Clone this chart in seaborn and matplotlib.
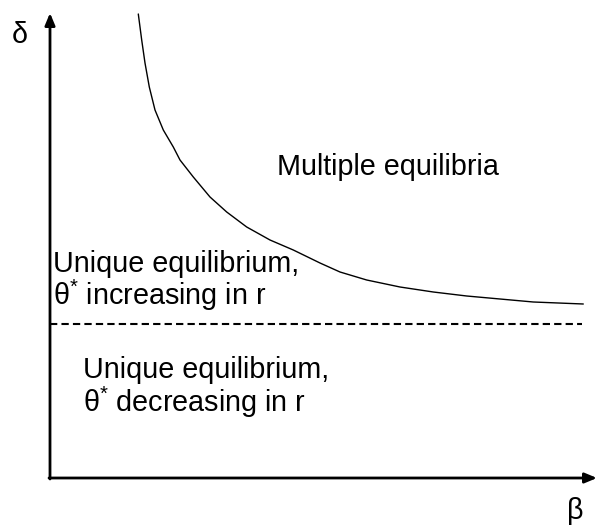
import matplotlib
matplotlib.use("Agg")
import matplotlib.pyplot as plt
import pandas as pd
import seaborn as sns

# Frontera entre regiones (beta, delta)
BETA_CURVA = [0.883, 0.917, 0.95, 0.993, 1.05, 1.133, 1.233, 1.30, 1.433, 1.60, 1.767,
              1.967, 2.20, 2.433, 2.70, 2.90, 3.167, 3.50, 3.833, 4.167, 4.50, 4.833, 5.333]
DELTA_CURVA = [4.64, 4.38, 4.15, 3.91, 3.68, 3.48, 3.31, 3.18, 3.01, 2.81, 2.66,
               2.51, 2.38, 2.28, 2.15, 2.06, 1.98, 1.91, 1.86, 1.82, 1.79, 1.76, 1.74]

# Umbral horizontal (linea discontinua)
DELTA_UMBRAL = 1.54
BETA_UMBRAL = [0.0, 5.32]

# Extremos de los ejes
BETA_MAX = 5.47
DELTA_MAX = 4.65

sns.set_theme(style="white")
plt.rcParams["font.family"] = ["Liberation Sans", "DejaVu Sans"]
plt.rcParams["text.color"] = "black"
plt.rcParams["mathtext.fontset"] = "custom"
plt.rcParams["mathtext.rm"] = "Liberation Sans"
plt.rcParams["mathtext.it"] = "Liberation Sans"

df = pd.DataFrame({"beta": BETA_CURVA, "delta": DELTA_CURVA})

fig = plt.figure(figsize=(5.98, 5.25), dpi=100)
ax = fig.add_axes([0, 0, 1, 1])
ax.set_xlim(-0.5, 5.48)
ax.set_ylim(-0.47, 4.78)
ax.axis("off")

sns.lineplot(data=df, x="beta", y="delta", ax=ax, color="black", linewidth=1.0, sort=False)
ax.plot(BETA_UMBRAL, [DELTA_UMBRAL, DELTA_UMBRAL], color="black", linewidth=1.5,
        linestyle=(0, (3.5, 2)))

# Ejes con flecha
flecha = dict(arrowstyle="-|>,head_length=0.6,head_width=0.25", color="black", lw=2,
              shrinkA=0, shrinkB=0)
ax.annotate("", xy=(0, DELTA_MAX), xytext=(0, -0.01), arrowprops=flecha)
ax.annotate("", xy=(BETA_MAX, 0), xytext=(-0.01, 0), arrowprops=flecha)

fs = 20.7
ax.text(-0.30, 4.43, "δ", fontsize=fs, ha="center", va="center")
ax.text(5.25, -0.33, "β", fontsize=fs, ha="center", va="center")

ax.text(2.27, 3.03, "Multiple equilibria", fontsize=fs, ha="left", va="baseline")
ax.text(0.03, 2.06, "Unique equilibrium,", fontsize=fs, ha="left", va="baseline")
ax.text(0.03, 1.73, "θ$^{*}$ increasing in r", fontsize=fs, ha="left", va="baseline")
ax.text(0.33, 1.00, "Unique equilibrium,", fontsize=fs, ha="left", va="baseline")
ax.text(0.33, 0.66, "θ$^{*}$ decreasing in r", fontsize=fs, ha="left", va="baseline")

fig.savefig("out.png", dpi=100)
